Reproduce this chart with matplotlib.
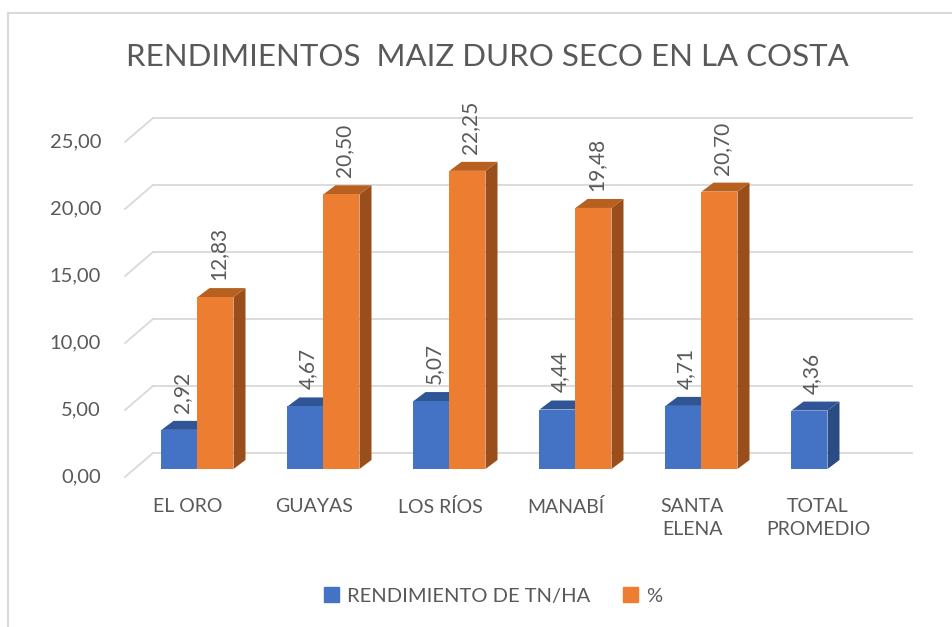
"""
Rendimientos maiz duro seco en la costa - columnas con efecto 3D
"""

import matplotlib
matplotlib.use('Agg')
import matplotlib.pyplot as plt
from matplotlib.patches import Polygon, Patch
from matplotlib.lines import Line2D

plt.rcParams['font.family'] = ['Lato', 'DejaVu Sans']

# datos
provincias = ['EL ORO', 'GUAYAS', 'LOS RÍOS', 'MANABÍ', 'SANTA\nELENA', 'TOTAL\nPROMEDIO']
rendimiento = [2.92, 4.67, 5.07, 4.44, 4.71, 4.36]
porcentaje = [12.83, 20.50, 22.25, 19.48, 20.70, None]
yticks = [0, 5, 10, 15, 20, 25]
serie_labels = ['RENDIMIENTO DE TN/HA', '%']

TEXT = '#595959'
GRID = '#D9D9D9'
BLUE = ('#4472C4', '#2F5597', '#2B4B85')    # frente, tapa, lado
ORANGE = ('#ED7D31', '#B8601F', '#9A4E1C')

W, H = 953, 627
fig = plt.figure(figsize=(W / 100, H / 100), dpi=100)

# ejes en pixeles: 1 categoria = 126 px, 1 unidad = 13.4 px
px_cat, px_val = 126.0, 13.4
x0_px, y0_px = 197.5, 469.0
L, R, T, B = 100, 940, 90, 500
ax = fig.add_axes([L / W, 1 - B / H, (R - L) / W, (B - T) / H])
ax.set_xlim((L - x0_px) / px_cat, (R - x0_px) / px_cat)
ax.set_ylim((y0_px - B) / px_val, (y0_px - T) / px_val)
ax.axis('off')

w = 36 / px_cat
dx, dy = 12 / px_cat, 9 / px_val
back_dy = 16 / px_val
front_dy = -8 / px_val
back_x0, back_x1 = (153 - x0_px) / px_cat, (912 - x0_px) / px_cat
front_x = (125 - x0_px) / px_cat

# rejilla del fondo y lineas de la pared lateral
for v in yticks:
    ax.plot([back_x0, back_x1], [v + back_dy, v + back_dy], color=GRID, lw=1.3, zorder=1)
    ax.plot([front_x, back_x0], [v + front_dy, v + back_dy], color=GRID, lw=1.3, zorder=1)
    ax.text(front_x - 0.19, v + front_dy, f'{v:.2f}'.replace('.', ','), ha='right', va='center',
            fontsize=14.5, color=TEXT)


def bar3d(xl, h, colors, z):
    front, top, side = colors
    ax.add_patch(Polygon([(xl + w, 0), (xl + w + dx, dy), (xl + w + dx, h + dy), (xl + w, h)],
                         closed=True, fc=side, ec='none', zorder=z))
    ax.add_patch(Polygon([(xl, h), (xl + w, h), (xl + w + dx, h + dy), (xl + dx, h + dy)],
                         closed=True, fc=top, ec='none', zorder=z))
    ax.bar(xl, h, width=w, align='edge', color=front, zorder=z + 0.5)


for i, (r, p) in enumerate(zip(rendimiento, porcentaje)):
    bar3d(i - w, r, BLUE, 3)
    ax.text(i - w / 2 + 0.02, r + dy + 0.6, f'{r:.2f}'.replace('.', ','), rotation=90,
            ha='center', va='bottom', fontsize=15, color=TEXT, zorder=6)
    if p is not None:
        bar3d(i, p, ORANGE, 4)
        ax.text(i + w / 2 + 0.02, p + dy + 0.6, f'{p:.2f}'.replace('.', ','), rotation=90,
                ha='center', va='bottom', fontsize=15, color=TEXT, zorder=6)
    ax.text(i - 0.075, (y0_px - 498) / px_val, provincias[i], ha='center', va='top',
            fontsize=14, color=TEXT, linespacing=1.45)

fig.text(487 / W, 1 - 57 / H, 'RENDIMIENTOS  MAIZ DURO SECO EN LA COSTA', ha='center',
         va='center', fontsize=22.5, color=TEXT)

handles = [Patch(color=BLUE[0]), Patch(color=ORANGE[0])]
fig.legend(handles, serie_labels, loc='center', bbox_to_anchor=(493 / W, 1 - 596 / H), ncol=2,
           frameon=False, fontsize=14.5, labelcolor=TEXT, handlelength=0.75, handleheight=0.75,
           handletextpad=0.4, columnspacing=1.6)

# borde del grafico
fig.add_artist(Line2D([8 / W, 1], [1 - 13 / H, 1 - 13 / H], color=GRID, lw=1.5))
fig.add_artist(Line2D([8 / W, 8 / W], [0, 1 - 13 / H], color=GRID, lw=1.5))

fig.savefig('out.png', dpi=100)
